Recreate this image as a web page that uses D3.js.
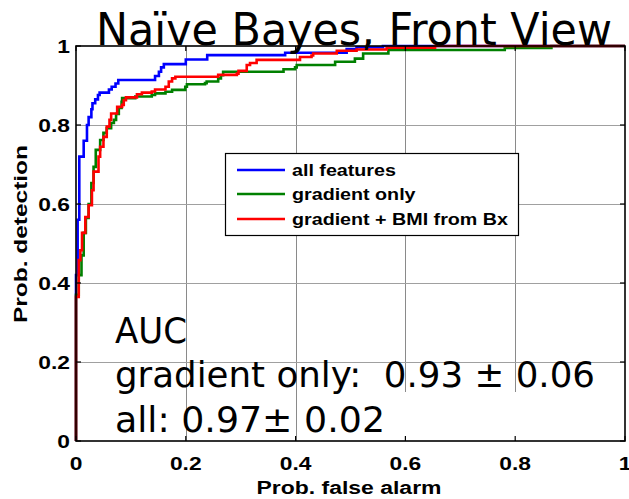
<!DOCTYPE html>
<html><head><meta charset="utf-8">
<script src="https://cdn.jsdelivr.net/npm/d3@7"></script>
<style>body{margin:0;background:#fff}text{white-space:pre}</style>
</head><body>
<svg id="c" width="629" height="499"></svg>
<script>
// ---- data ----
const seriesNames = ["all features", "gradient only", "gradient + BMI from Bx"];
const seriesColors = ["#0000ff", "#008000", "#ff0000"];

// ROC staircase corners: at each false-alarm value the detection rises to the given level
const allFpr = [0, 0, 0.003, 0.006, 0.014, 0.02, 0.023, 0.028, 0.03, 0.035, 0.04, 0.043, 0.06, 0.065, 0.072, 0.077, 0.144, 0.151, 0.155, 0.16, 0.2, 0.239, 0.381, 0.493, 0.511, 0.559, 1];
const allTpr = [0, 0.42, 0.56, 0.72, 0.76, 0.80, 0.82, 0.84, 0.855, 0.865, 0.876, 0.882, 0.89, 0.897, 0.905, 0.914, 0.924, 0.935, 0.946, 0.954, 0.966, 0.977, 0.983, 0.992, 0.997, 1, 1];

const gradFpr = [0, 0, 0.005, 0.01, 0.014, 0.018, 0.023, 0.028, 0.032, 0.036, 0.044, 0.05, 0.056, 0.064, 0.069, 0.073, 0.078, 0.083, 0.084, 0.108, 0.138, 0.144, 0.163, 0.175, 0.199, 0.202, 0.235, 0.238, 0.259, 0.264, 0.268, 0.378, 0.399, 0.402, 0.472, 0.508, 0.523, 0.569, 0.781, 0.866, 1];
const gradTpr = [0, 0.37, 0.42, 0.47, 0.527, 0.565, 0.60, 0.653, 0.694, 0.737, 0.762, 0.78, 0.792, 0.805, 0.813, 0.828, 0.843, 0.859, 0.868, 0.872, 0.876, 0.88, 0.884, 0.889, 0.897, 0.903, 0.906, 0.91, 0.918, 0.926, 0.935, 0.941, 0.946, 0.952, 0.96, 0.968, 0.981, 0.99, 0.995, 1, 1];

const bmiFpr = [0, 0, 0.005, 0.008, 0.011, 0.017, 0.023, 0.029, 0.032, 0.041, 0.044, 0.05, 0.056, 0.061, 0.064, 0.075, 0.084, 0.087, 0.091, 0.111, 0.12, 0.138, 0.144, 0.163, 0.169, 0.175, 0.181, 0.259, 0.293, 0.296, 0.311, 0.317, 0.329, 0.408, 0.429, 0.432, 0.475, 0.511, 0.566, 0.654, 1];
const bmiTpr = [0, 0.365, 0.458, 0.483, 0.527, 0.567, 0.597, 0.635, 0.682, 0.72, 0.745, 0.77, 0.796, 0.813, 0.829, 0.846, 0.851, 0.863, 0.87, 0.878, 0.882, 0.885, 0.89, 0.897, 0.91, 0.918, 0.922, 0.927, 0.93, 0.937, 0.952, 0.957, 0.965, 0.972, 0.976, 0.981, 0.988, 0.991, 0.996, 1, 1];

const xTicks = [0, 0.2, 0.4, 0.6, 0.8, 1];
const xTickLabels = ["0", "0.2", "0.4", "0.6", "0.8", "1"];
const yTicks = [0, 0.2, 0.4, 0.6, 0.8, 1];
const yTickLabels = ["0", "0.2", "0.4", "0.6", "0.8", "1"];

const titleText = "Naïve Bayes, Front View";
const xLabel = "Prob. false alarm";
const yLabel = "Prob. detection";
const aucLines = ["AUC", "gradient only:  0.93 \u00b1 0.06", "all: 0.97\u00b1 0.02"];

// ---- layout ----
const L = 76, R = 625, T = 46, B = 441;
const svg = d3.select("#c");
const x = d3.scaleLinear().domain([0, 1]).range([L, R]);
const y = d3.scaleLinear().domain([0, 1]).range([B, T]);
const boldFont = "'Liberation Sans', Arial, sans-serif";
const bigFont = "'DejaVu Sans', sans-serif";

function stretch(sel, f) {
  sel.each(function () {
    const w = this.getComputedTextLength();
    d3.select(this).attr("textLength", w * f).attr("lengthAdjust", "spacingAndGlyphs");
  });
}
function fitTo(sel, w) {
  sel.attr("textLength", w).attr("lengthAdjust", "spacingAndGlyphs");
}

svg.append("rect").attr("width", 629).attr("height", 499).attr("fill", "#fff");

// grid
const grid = svg.append("g").attr("stroke", "#8a8a8a").attr("stroke-width", 1).attr("shape-rendering", "crispEdges");
grid.selectAll(".gx").data(xTicks.slice(1, -1)).join("line")
  .attr("x1", d => Math.round(x(d)) + 0.5).attr("x2", d => Math.round(x(d)) + 0.5)
  .attr("y1", T).attr("y2", B);
grid.selectAll(".gy").data(yTicks.slice(1, -1)).join("line")
  .attr("stroke", "#a0a0a0")
  .attr("x1", L).attr("x2", R)
  .attr("y1", d => Math.round(y(d)) + 0.5).attr("y2", d => Math.round(y(d)) + 0.5);

// white patch behind the lower-right part of the annotation
svg.append("rect").attr("x", 390).attr("y", 392).attr("width", R - 390 - 2).attr("height", B - 392 - 1).attr("fill", "#fff");

// curves
const series = [
  { fpr: allFpr, tpr: allTpr },
  { fpr: gradFpr, tpr: gradTpr },
  { fpr: bmiFpr, tpr: bmiTpr }
];
const line = d3.line().x(d => x(d[0])).y(d => y(d[1])).curve(d3.curveStepAfter);
series.forEach((s, i) => {
  const pts = s.fpr.map((f, k) => [f, s.tpr[k]]);
  svg.append("path").attr("d", line(pts)).attr("fill", "none")
    .attr("stroke", seriesColors[i]).attr("stroke-width", 2.6).attr("stroke-linejoin", "miter");
});

// frame
svg.append("rect").attr("x", L).attr("y", T).attr("width", R - L).attr("height", B - T)
  .attr("fill", "none").attr("stroke", "#000").attr("stroke-width", 1.6);

// ticks (inward, all four sides)
const tk = svg.append("g").attr("stroke", "#000").attr("stroke-width", 1.2);
const tl = 5;
xTicks.forEach(v => {
  tk.append("line").attr("x1", x(v)).attr("x2", x(v)).attr("y1", B).attr("y2", B - tl);
  tk.append("line").attr("x1", x(v)).attr("x2", x(v)).attr("y1", T).attr("y2", T + tl);
});
yTicks.forEach(v => {
  tk.append("line").attr("x1", L).attr("x2", L + tl).attr("y1", y(v)).attr("y2", y(v));
  tk.append("line").attr("x1", R).attr("x2", R - tl).attr("y1", y(v)).attr("y2", y(v));
});

// tick labels
svg.append("g").selectAll("text").data(xTicks).join("text")
  .attr("x", d => x(d)).attr("y", 470).attr("text-anchor", "middle")
  .attr("font-family", boldFont).attr("font-weight", "bold").attr("font-size", 19)
  .text((d, i) => xTickLabels[i]).call(stretch, 1.2);
svg.append("g").selectAll("text").data(yTicks).join("text")
  .attr("x", 70).attr("y", d => y(d) + 7).attr("text-anchor", "end")
  .attr("font-family", boldFont).attr("font-weight", "bold").attr("font-size", 19)
  .text((d, i) => yTickLabels[i]).call(stretch, 1.2);

// axis labels
svg.append("text").attr("x", 349).attr("y", 494).attr("text-anchor", "middle")
  .attr("font-family", boldFont).attr("font-weight", "bold").attr("font-size", 18)
  .text(xLabel).call(fitTo, 185);
svg.append("text").attr("transform", "translate(27,234) rotate(-90)").attr("text-anchor", "middle")
  .attr("font-family", boldFont).attr("font-weight", "bold").attr("font-size", 18)
  .text(yLabel).call(fitTo, 178);

// legend
const lg = svg.append("g");
lg.append("rect").attr("x", 225.5).attr("y", 153.5).attr("width", 293).attr("height", 82)
  .attr("fill", "#fff").attr("stroke", "#000").attr("stroke-width", 1.2);
const rowsY = [170, 194, 219];
seriesNames.forEach((n, i) => {
  lg.append("line").attr("x1", 237).attr("x2", 285).attr("y1", rowsY[i]).attr("y2", rowsY[i])
    .attr("stroke", seriesColors[i]).attr("stroke-width", 2.6);
  lg.append("text").attr("x", 292).attr("y", rowsY[i] + 6)
    .attr("font-family", boldFont).attr("font-weight", "bold").attr("font-size", 16)
    .text(n).call(stretch, 1.23);
});

// AUC annotation
const aucY = [343, 387, 432];
const aucW = [72, 480, 270];
aucLines.forEach((t, i) => {
  svg.append("text").attr("x", 115).attr("y", aucY[i])
    .attr("font-family", bigFont).attr("font-size", 36).attr("fill", "#000")
    .text(t).call(fitTo, aucW[i]);
});

// title
svg.append("text").attr("x", 96).attr("y", 44.5)
  .attr("font-family", bigFont).attr("font-size", 44).attr("fill", "#000")
  .text(titleText).call(fitTo, 516);
</script>
</body></html>
